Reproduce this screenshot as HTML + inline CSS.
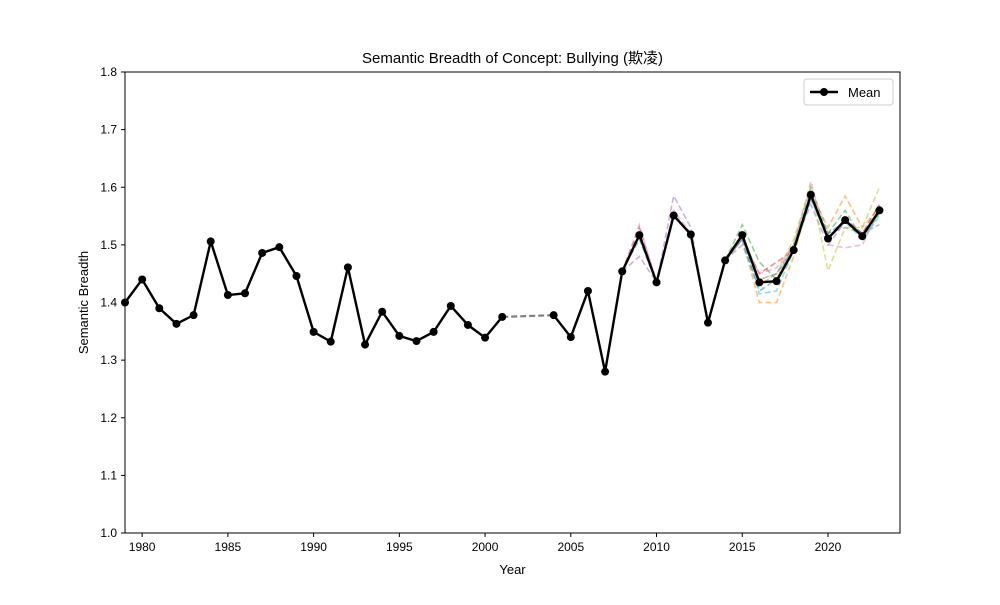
<!DOCTYPE html>
<html><head><meta charset="utf-8"><style>
body{margin:0;background:#fff;}
svg text{font-family:"Liberation Sans","Noto Sans CJK SC",sans-serif;fill:#000;}
</style></head><body>
<svg id="chart" width="1000" height="600" xmlns="http://www.w3.org/2000/svg"></svg>
<script>
const years=[1979,1980,1981,1982,1983,1984,1985,1986,1987,1988,1989,1990,1991,1992,1993,1994,1995,1996,1997,1998,1999,2000,2001,2004,2005,2006,2007,2008,2009,2010,2011,2012,2013,2014,2015,2016,2017,2018,2019,2020,2021,2022,2023];
const meanValues=[1.40,1.44,1.39,1.363,1.378,1.506,1.413,1.416,1.486,1.496,1.446,1.349,1.332,1.461,1.327,1.384,1.342,1.333,1.349,1.394,1.361,1.339,1.375,1.378,1.34,1.42,1.28,1.454,1.517,1.435,1.551,1.518,1.365,1.473,1.517,1.435,1.437,1.491,1.587,1.511,1.543,1.515,1.56];
const runYears=[2008,2009,2010,2011,2012,2013,2014,2015,2016,2017,2018,2019,2020,2021,2022,2023];
const runBlue  =[1.454,1.51,1.435,1.55,1.52,1.365,1.473,1.51,1.42,1.44,1.49,1.58,1.52,1.54,1.52,1.555];
const runOrange=[1.454,1.52,1.435,1.55,1.52,1.365,1.473,1.51,1.40,1.40,1.48,1.59,1.53,1.585,1.53,1.565];
const runGreen =[1.454,1.52,1.435,1.55,1.52,1.365,1.473,1.535,1.47,1.44,1.50,1.60,1.52,1.56,1.51,1.555];
const runRed   =[1.454,1.53,1.435,1.55,1.52,1.365,1.473,1.51,1.45,1.47,1.49,1.59,1.51,1.545,1.52,1.57];
const runPurple=[1.454,1.48,1.435,1.585,1.53,1.365,1.473,1.51,1.44,1.45,1.50,1.57,1.50,1.54,1.52,1.56];
const runPink  =[1.454,1.535,1.435,1.56,1.52,1.365,1.473,1.51,1.45,1.46,1.50,1.61,1.50,1.495,1.50,1.56];
const runGray  =[1.454,1.52,1.435,1.55,1.52,1.365,1.473,1.50,1.43,1.45,1.49,1.58,1.52,1.53,1.52,1.535];
const runOlive =[1.454,1.52,1.435,1.55,1.52,1.365,1.473,1.52,1.44,1.45,1.51,1.60,1.455,1.53,1.53,1.60];
const runCyan  =[1.454,1.52,1.435,1.55,1.52,1.365,1.473,1.51,1.415,1.42,1.49,1.58,1.51,1.54,1.51,1.55];
const runs=[runBlue,runOrange,runGreen,runRed,runPurple,runPink,runGray,runOlive,runCyan];
const runColors=['#1f77b4','#ff7f0e','#2ca02c','#d62728','#9467bd','#e377c2','#7f7f7f','#bcbd22','#17becf'];
const xTicks=[1980,1985,1990,1995,2000,2005,2010,2015,2020];
const yTicks=[1.0,1.1,1.2,1.3,1.4,1.5,1.6,1.7,1.8];
const L=125,R=900,T=72,B=533,x0=1979,x1=2024.2,y0=1.0,y1=1.8;
const X=v=>L+(v-x0)/(x1-x0)*(R-L);
const Y=v=>B-(v-y0)/(y1-y0)*(B-T);
const svg=document.getElementById('chart');
const NS='http://www.w3.org/2000/svg';
function mk(tag,attrs,parent){const e=document.createElementNS(NS,tag);for(const k in attrs)e.setAttribute(k,attrs[k]);(parent||svg).appendChild(e);return e;}
function txt(s,x,y,anchor,size,name){const t=mk('text',{x:x,y:y,'text-anchor':anchor,'font-size':size});t.textContent=s;


return t;}
// runs
runs.forEach((r,i)=>{
  const p=mk('polyline',{points:r.map((v,j)=>X(runYears[j])+','+Y(v)).join(' '),fill:'none',stroke:runColors[i],'stroke-width':1.6,'stroke-dasharray':'6,3','stroke-opacity':0.5});
  
  
});
// mean segments split at gap
const gi=years.indexOf(2001);
const seg1=years.slice(0,gi+1).map((y,j)=>X(y)+','+Y(meanValues[j])).join(' ');
const seg2=years.slice(gi+1).map((y,j)=>X(y)+','+Y(meanValues[gi+1+j])).join(' ');
const gap=mk('line',{x1:X(years[gi]),y1:Y(meanValues[gi]),x2:X(years[gi+1]),y2:Y(meanValues[gi+1]),stroke:'#808080','stroke-width':2.2,'stroke-dasharray':'6,3'});


[seg1,seg2].forEach((s,i)=>{const p=mk('polyline',{points:s,fill:'none',stroke:'#000','stroke-width':2.4,'stroke-linejoin':'round'});

});
years.forEach((y,j)=>{const c=mk('circle',{cx:X(y),cy:Y(meanValues[j]),r:4,fill:'#000'});

});
// axes frame
const fr=mk('rect',{x:L,y:T,width:R-L,height:B-T,fill:'none',stroke:'#000','stroke-width':1});


xTicks.forEach(t=>{mk('line',{x1:X(t),x2:X(t),y1:B,y2:B+4,stroke:'#000'});txt(String(t),X(t),B+18,'middle',12,'x-tick-label');});
yTicks.forEach(t=>{mk('line',{x1:L-4,x2:L,y1:Y(t),y2:Y(t),stroke:'#000'});txt(t.toFixed(1),L-8,Y(t)+4,'end',12,'y-tick-label');});
txt('Year',(L+R)/2,574,'middle',13,'x-axis-title');
const yt=txt('Semantic Breadth',88,(T+B)/2,'middle',13,'y-axis-title');
yt.setAttribute('transform','rotate(-90 88 '+((T+B)/2)+')');
txt('Semantic Breadth of Concept: Bullying (欺凌)',(L+R)/2,63,'middle',15,'chart-title');
// legend
const lg=mk('g',{});


mk('rect',{x:804,y:79,width:89,height:26,rx:3,fill:'#fff',stroke:'#ccc'},lg);
mk('line',{x1:810,x2:838,y1:92,y2:92,stroke:'#000','stroke-width':2.4},lg);
mk('circle',{cx:824,cy:92,r:4,fill:'#000'},lg);
const lt=mk('text',{x:848,y:97,'font-size':13},lg);lt.textContent='Mean';


</script>
</body></html>
